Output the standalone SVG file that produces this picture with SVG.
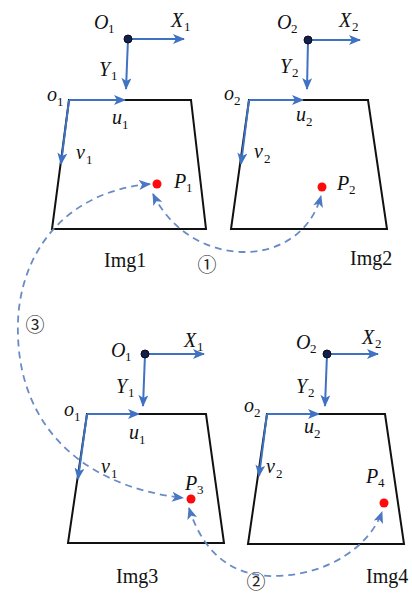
<svg xmlns="http://www.w3.org/2000/svg" width="412" height="595" viewBox="0 0 412 595">
<style>
.trap{fill:none;stroke:#111;stroke-width:2;stroke-linejoin:miter}
.ax{fill:none;stroke:#3f72c2;stroke-width:2;marker-end:url(#ah)}
.dash{fill:none;stroke:#6a8cc6;stroke-width:1.8;stroke-dasharray:7 5;marker-start:url(#dh);marker-end:url(#dh)}
.org{fill:#14204a;stroke:#0a0a20;stroke-width:1}
.pt{fill:#ff0a0a}
.it{font-family:"Liberation Serif","Times New Roman",serif;font-style:italic;font-size:20px;fill:#111}
.sub{font-family:"Liberation Serif","Times New Roman",serif;font-size:13px;fill:#111}
.lab{font-family:"Liberation Serif","Times New Roman",serif;font-size:20px;fill:#111}
.num{font-family:"Noto Sans CJK SC","DejaVu Sans",sans-serif;font-size:19px;fill:#222}
</style>
<defs>
<marker id="ah" viewBox="0 0 12 10" refX="11" refY="5" markerWidth="13" markerHeight="10" markerUnits="userSpaceOnUse" orient="auto">
<path d="M0,0 L12,5 L0,10 L3,5 Z" fill="#3f72c2"/>
</marker>
<marker id="dh" viewBox="0 0 12 10" refX="11" refY="5" markerWidth="12" markerHeight="10" markerUnits="userSpaceOnUse" orient="auto-start-reverse">
<path d="M0,0 L12,5 L0,10 L3,5 Z" fill="#4a78c4"/>
</marker>
</defs>

<g id="img1">
<polygon class="trap" points="69,100 191,100 206,229 52,229"/>
<line class="ax" x1="128" y1="39" x2="184" y2="39"/>
<line class="ax" x1="128" y1="39" x2="126" y2="89"/>
<line class="ax" x1="69" y1="100" x2="125" y2="100"/>
<line class="ax" x1="69" y1="100" x2="61" y2="164"/>
<circle class="org" cx="128" cy="39" r="4"/>
<circle class="pt" cx="157" cy="184" r="4.5"/>
<text class="it" x="94" y="29">O</text><text class="sub" x="108" y="33">1</text>
<text class="it" x="171" y="27">X</text><text class="sub" x="184" y="31">1</text>
<text class="it" x="99" y="76">Y</text><text class="sub" x="111" y="80">1</text>
<text class="it" x="47" y="101">o</text><text class="sub" x="57" y="106">1</text>
<text class="it" x="112" y="124">u</text><text class="sub" x="122" y="129">1</text>
<text class="it" x="76" y="159">v</text><text class="sub" x="86" y="164">1</text>
<text class="it" x="174" y="188">P</text><text class="sub" x="186" y="192">1</text>
<text class="lab" x="104" y="267">Img1</text>
</g>

<g id="img2">
<polygon class="trap" points="249,100 368,100 387,229 231,229"/>
<line class="ax" x1="308" y1="40" x2="360" y2="40"/>
<line class="ax" x1="308" y1="40" x2="307" y2="89"/>
<line class="ax" x1="249" y1="100" x2="303" y2="100"/>
<line class="ax" x1="249" y1="100" x2="241" y2="164"/>
<circle class="org" cx="308" cy="40" r="4"/>
<circle class="pt" cx="322" cy="187" r="4.5"/>
<text class="it" x="277" y="29">O</text><text class="sub" x="291" y="33">2</text>
<text class="it" x="339" y="27">X</text><text class="sub" x="352" y="31">2</text>
<text class="it" x="280" y="73">Y</text><text class="sub" x="292" y="77">2</text>
<text class="it" x="224" y="100">o</text><text class="sub" x="234" y="105">2</text>
<text class="it" x="296" y="121">u</text><text class="sub" x="306" y="126">2</text>
<text class="it" x="254" y="158">v</text><text class="sub" x="264" y="163">2</text>
<text class="it" x="337" y="190">P</text><text class="sub" x="349" y="194">2</text>
<text class="lab" x="350" y="265">Img2</text>
</g>

<g id="img3">
<polygon class="trap" points="87,414 206,414 224,543 68,543"/>
<line class="ax" x1="145" y1="354" x2="204" y2="354"/>
<line class="ax" x1="145" y1="354" x2="143" y2="406"/>
<line class="ax" x1="87" y1="414" x2="139" y2="414"/>
<line class="ax" x1="87" y1="414" x2="78" y2="479"/>
<circle class="org" cx="145" cy="354" r="4"/>
<circle class="pt" cx="191" cy="499" r="4.5"/>
<text class="it" x="111" y="357">O</text><text class="sub" x="125" y="361">1</text>
<text class="it" x="184" y="347">X</text><text class="sub" x="197" y="351">1</text>
<text class="it" x="116" y="393">Y</text><text class="sub" x="128" y="397">1</text>
<text class="it" x="64" y="416">o</text><text class="sub" x="74" y="421">1</text>
<text class="it" x="129" y="439">u</text><text class="sub" x="139" y="444">1</text>
<text class="it" x="101" y="473">v</text><text class="sub" x="111" y="478">1</text>
<text class="it" x="185" y="490">P</text><text class="sub" x="197" y="494">3</text>
<text class="lab" x="116" y="583">Img3</text>
</g>

<g id="img4">
<polygon class="trap" points="267,414 385,414 404,544 248,544"/>
<line class="ax" x1="327" y1="354" x2="378" y2="354"/>
<line class="ax" x1="327" y1="354" x2="325" y2="406"/>
<line class="ax" x1="267" y1="414" x2="319" y2="414"/>
<line class="ax" x1="267" y1="414" x2="259" y2="476"/>
<circle class="org" cx="327" cy="354" r="4"/>
<circle class="pt" cx="384" cy="503" r="4.5"/>
<text class="it" x="296" y="349">O</text><text class="sub" x="310" y="353">2</text>
<text class="it" x="362" y="344">X</text><text class="sub" x="375" y="348">2</text>
<text class="it" x="296" y="393">Y</text><text class="sub" x="308" y="397">2</text>
<text class="it" x="244" y="412">o</text><text class="sub" x="254" y="417">2</text>
<text class="it" x="304" y="433">u</text><text class="sub" x="314" y="438">2</text>
<text class="it" x="266" y="473">v</text><text class="sub" x="276" y="478">2</text>
<text class="it" x="366" y="483">P</text><text class="sub" x="378" y="487">4</text>
<text class="lab" x="366" y="583">Img4</text>
</g>

<g id="connectors">
<path class="dash" d="M153,194 C190,270 300,272 321,196"/>
<path class="dash" d="M150,184 C60,192 15,260 18,335 C20,420 75,485 183,498"/>
<path class="dash" d="M189,508 C205,560 240,577 275,576 C330,575 370,545 382,512"/>
<text class="num" x="207" y="272" text-anchor="middle">①</text>
<text class="num" x="35" y="332" text-anchor="middle">③</text>
<text class="num" x="256" y="589" text-anchor="middle">②</text>
</g>
</svg>
